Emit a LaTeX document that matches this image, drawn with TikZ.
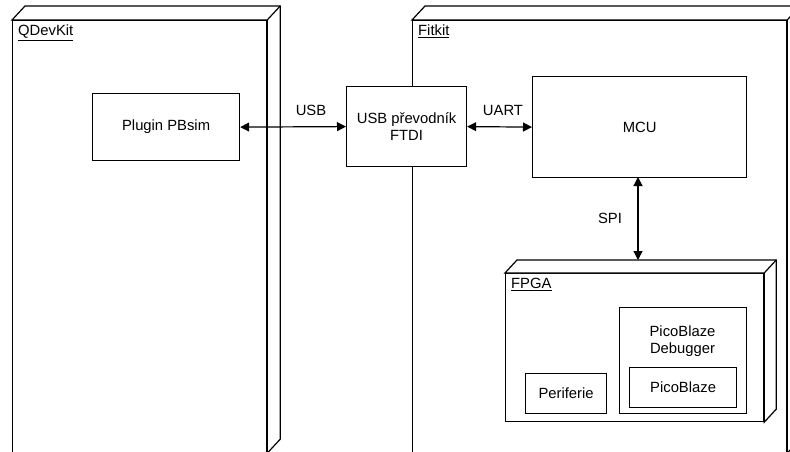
\documentclass[tikz,border=0pt]{standalone}
\usepackage{fontspec}
\setmainfont{Liberation Sans}
\usetikzlibrary{arrows.meta}
\begin{document}
\begin{tikzpicture}[x=1pt,y=-1pt,
  ln/.style={draw=black,line width=1.2pt},
  box/.style={ln,fill=white,anchor=north west,inner sep=0pt,align=center,font=\fontsize{14.8}{17}\selectfont},
  txt/.style={inner sep=0pt,align=center,font=\fontsize{14.8}{17}\selectfont},
  ttl/.style={inner sep=0pt,anchor=north west,font=\fontsize{14.8}{17}\selectfont},
  link/.style={ln,{Triangle[length=9pt,width=9pt]}-{Triangle[length=9pt,width=9pt]}}]
\useasboundingbox (0,0) rectangle (790,452);
\begin{scope}
\clip (0,0) rectangle (790,452);
% QDevKit node
\node[box,minimum width=254pt,minimum height=432pt] (q) at (12,20) {};
\draw[ln,fill=white] (q.north west) -- ([shift={(13,-14)}]q.north west) -- ([shift={(13,-14)}]q.north east) -- ([shift={(13,-14)}]q.south east) -- (q.south east) -- (q.north east) -- cycle;
\draw[ln] (q.north east) -- ([shift={(13,-14)}]q.north east);
\node[ttl] (qt) at (18,25) {\underline{QDevKit}};
% Fitkit node
\node[box,minimum width=374pt,minimum height=432pt] (f) at (412,20) {};
\draw[ln,fill=white] (f.north west) -- ([shift={(13,-14)}]f.north west) -- ([shift={(13,-14)}]f.north east) -- ([shift={(13,-14)}]f.south east) -- (f.south east) -- (f.north east) -- cycle;
\draw[ln] (f.north east) -- ([shift={(13,-14)}]f.north east);
\node[ttl] (ft) at (418,25) {\underline{Fitkit}};
\end{scope}
% components
\node[box,minimum width=147pt,minimum height=67pt] (pb) at (92,93) {Plugin PBsim};
\node[box,minimum width=120pt,minimum height=80pt] (ftdi) at (346,86) {USB převodník\\FTDI};
\node[box,minimum width=214pt,minimum height=101pt] (mcu) at (532,76) {MCU};
% FPGA node
\node[box,minimum width=258pt,minimum height=148pt] (fpga) at (505,273) {};
\draw[ln,fill=white] (fpga.north west) -- ([shift={(12,-13)}]fpga.north west) -- ([shift={(12,-13)}]fpga.north east) -- ([shift={(12,-13)}]fpga.south east) -- (fpga.south east) -- (fpga.north east) -- cycle;
\draw[ln] (fpga.north east) -- ([shift={(12,-13)}]fpga.north east);
\node[ttl] (fpgat) at (511,278) {\underline{FPGA}};
\node[box,minimum width=127pt,minimum height=106pt] (dbg) at (619,307) {};
\node[txt] (dbgt) at (682.5,341) {PicoBlaze\\Debugger};
\node[box,minimum width=107pt,minimum height=40pt] (pico) at (629,367) {PicoBlaze};
\node[box,minimum width=81pt,minimum height=40pt] (per) at (525,373) {Periferie};
% connectors
\draw[link] (pb.east) -- (ftdi.west);
\draw[link] (ftdi.east) -- (mcu.west);
\coordinate (fpgatop) at (638,260);
\draw[link] (638,177) -- (fpgatop);
\node[txt] (usbl) at (311,110) {USB};
\node[txt] (uartl) at (503,110) {UART};
\node[txt] (spil) at (610,218) {SPI};
\end{tikzpicture}
\end{document}
